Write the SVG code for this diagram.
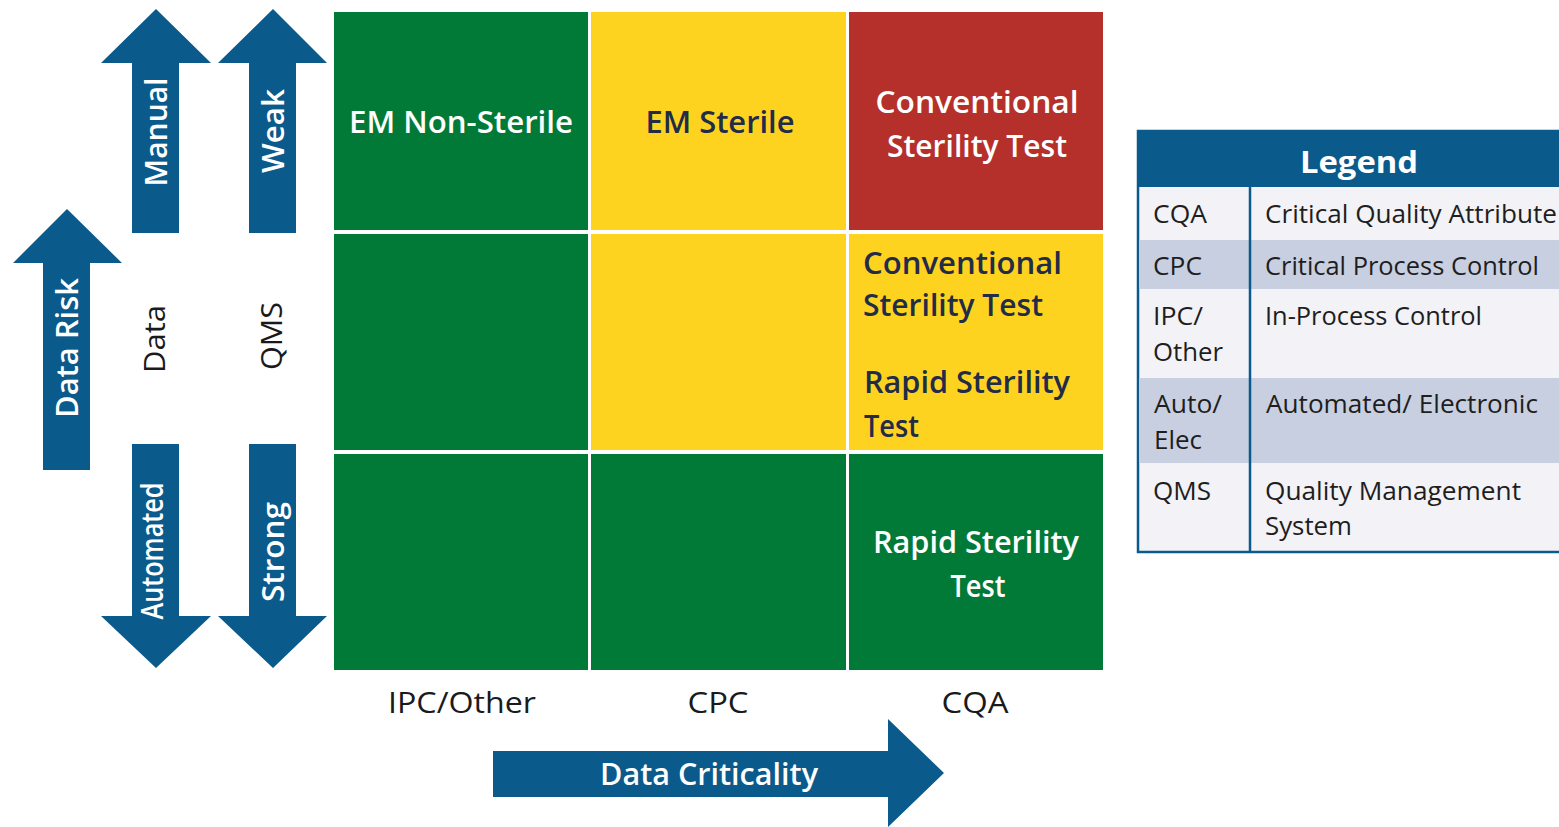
<svg xmlns="http://www.w3.org/2000/svg" width="1559" height="827" viewBox="0 0 1559 827">
  <style>
    .t { font-family: "Open Sans", "Noto Sans", "Liberation Sans", sans-serif; }
    .lbl { font-weight: 600; font-size: 30px; }
    .w { fill: #ffffff; }
    .nv { fill: #222b48; }
    .k { fill: #1a1a1a; }
    .axis { font-size: 29px; font-weight: 400; }
    .lg { font-size: 25px; font-weight: 400; fill: #1e1e1e; }
    .arrow { fill: #0a5a8c; }
    .green { fill: #017a38; }
    .yellow { fill: #fdd320; }
    .red { fill: #b5302b; }
  </style>

  <rect x="0" y="0" width="1559" height="827" fill="#ffffff"/>

  <!-- Vertical axis arrows -->
  <g id="arrow-manual">
    <polygon class="arrow" points="156,9 211,63 179,63 179,233 132,233 132,63 101,63"/>
    <text class="t lbl w" transform="translate(156,132) rotate(-90)" x="0" y="11" text-anchor="middle" font-size="31" textLength="109" lengthAdjust="spacingAndGlyphs">Manual</text>
  </g>
  <g id="arrow-weak">
    <polygon class="arrow" points="273,9 327,63 296,63 296,233 249,233 249,63 218,63"/>
    <text class="t lbl w" transform="translate(273,131) rotate(-90)" x="0" y="11" text-anchor="middle" font-size="31" textLength="84" lengthAdjust="spacingAndGlyphs">Weak</text>
  </g>
  <g id="arrow-data-risk">
    <polygon class="arrow" points="67,209 122,263 90,263 90,470 43,470 43,263 13,263"/>
    <text class="t lbl w" transform="translate(67,348) rotate(-90)" x="0" y="11" text-anchor="middle" font-size="31" textLength="140" lengthAdjust="spacingAndGlyphs">Data Risk</text>
  </g>
  <g id="label-data">
    <text class="t k" transform="translate(154,339) rotate(-90)" x="0" y="11" text-anchor="middle" font-size="30" textLength="68" lengthAdjust="spacingAndGlyphs">Data</text>
  </g>
  <g id="label-qms">
    <text class="t k" transform="translate(271,336) rotate(-90)" x="0" y="11" text-anchor="middle" font-size="30" textLength="68" lengthAdjust="spacingAndGlyphs">QMS</text>
  </g>
  <g id="arrow-automated">
    <polygon class="arrow" points="132,444 179,444 179,616 211,616 156,668 101,616 132,616"/>
    <text class="t lbl w" transform="translate(154,551) rotate(-90)" x="0" y="9" text-anchor="middle" font-size="25" textLength="137" lengthAdjust="spacingAndGlyphs">Automated</text>
  </g>
  <g id="arrow-strong">
    <polygon class="arrow" points="249,444 296,444 296,616 327,616 273,668 218,616 249,616"/>
    <text class="t lbl w" transform="translate(273,552) rotate(-90)" x="0" y="11" text-anchor="middle" font-size="31" textLength="100" lengthAdjust="spacingAndGlyphs">Strong</text>
  </g>

  <!-- Risk matrix cells -->
  <g id="cell-r1c1">
    <rect class="green" x="334" y="12" width="254" height="218"/>
    <text class="t lbl w" x="461" y="133" text-anchor="middle" textLength="224" lengthAdjust="spacingAndGlyphs">EM Non-Sterile</text>
  </g>
  <g id="cell-r1c2">
    <rect class="yellow" x="591" y="12" width="255" height="218"/>
    <text class="t lbl nv" x="720" y="133" text-anchor="middle" textLength="149" lengthAdjust="spacingAndGlyphs">EM Sterile</text>
  </g>
  <g id="cell-r1c3">
    <rect class="red" x="849" y="12" width="254" height="218"/>
    <text class="t lbl w" x="977" y="113" text-anchor="middle" textLength="203" lengthAdjust="spacingAndGlyphs">Conventional</text>
    <text class="t lbl w" x="977" y="157" text-anchor="middle" textLength="180" lengthAdjust="spacingAndGlyphs">Sterility Test</text>
  </g>
  <g id="cell-r2c1">
    <rect class="green" x="334" y="234" width="254" height="216"/>
  </g>
  <g id="cell-r2c2">
    <rect class="yellow" x="591" y="234" width="255" height="216"/>
  </g>
  <g id="cell-r2c3">
    <rect class="yellow" x="849" y="234" width="254" height="216"/>
    <text class="t lbl nv" x="863" y="274" textLength="199" lengthAdjust="spacingAndGlyphs">Conventional</text>
    <text class="t lbl nv" x="863" y="316" textLength="180" lengthAdjust="spacingAndGlyphs">Sterility Test</text>
    <text class="t lbl nv" x="864" y="393" textLength="206" lengthAdjust="spacingAndGlyphs">Rapid Sterility</text>
    <text class="t lbl nv" x="864" y="437" textLength="55" lengthAdjust="spacingAndGlyphs">Test</text>
  </g>
  <g id="cell-r3c1">
    <rect class="green" x="334" y="454" width="254" height="216"/>
  </g>
  <g id="cell-r3c2">
    <rect class="green" x="591" y="454" width="255" height="216"/>
  </g>
  <g id="cell-r3c3">
    <rect class="green" x="849" y="454" width="254" height="216"/>
    <text class="t lbl w" x="976" y="553" text-anchor="middle" textLength="206" lengthAdjust="spacingAndGlyphs">Rapid Sterility</text>
    <text class="t lbl w" x="978" y="597" text-anchor="middle" textLength="55" lengthAdjust="spacingAndGlyphs">Test</text>
  </g>

  <!-- Column labels -->
  <g id="col-labels">
    <text class="t axis k" x="462" y="713" text-anchor="middle" textLength="148" lengthAdjust="spacingAndGlyphs">IPC/Other</text>
    <text class="t axis k" x="718" y="713" text-anchor="middle" textLength="61" lengthAdjust="spacingAndGlyphs">CPC</text>
    <text class="t axis k" x="975" y="713" text-anchor="middle" textLength="67" lengthAdjust="spacingAndGlyphs">CQA</text>
  </g>

  <!-- Horizontal axis arrow -->
  <g id="arrow-data-criticality">
    <polygon class="arrow" points="493,751 888,751 888,719 944,773 888,827 888,797 493,797"/>
    <text class="t lbl w" x="709" y="785" text-anchor="middle" font-size="30" textLength="218" lengthAdjust="spacingAndGlyphs">Data Criticality</text>
  </g>

  <!-- Legend table -->
  <g id="legend">
    <rect x="1138" y="131" width="440" height="421" fill="#f2f2f7" stroke="#0a5a8c" stroke-width="2.5"/>
    <rect x="1139" y="240" width="440" height="49" fill="#c8cfe1"/>
    <rect x="1139" y="378" width="440" height="85" fill="#c8cfe1"/>
    <rect x="1138" y="131" width="440" height="56" fill="#0a5a8c"/>
    <line x1="1250" y1="187" x2="1250" y2="552" stroke="#0a5a8c" stroke-width="2.5"/>
    <text class="t w" x="1359" y="173" text-anchor="middle" font-size="30" font-weight="700" textLength="118" lengthAdjust="spacingAndGlyphs">Legend</text>

    <text class="t lg" x="1153" y="223" textLength="54" lengthAdjust="spacingAndGlyphs">CQA</text>
    <text class="t lg" x="1265" y="223" textLength="292" lengthAdjust="spacingAndGlyphs">Critical Quality Attribute</text>

    <text class="t lg" x="1153" y="275" textLength="49" lengthAdjust="spacingAndGlyphs">CPC</text>
    <text class="t lg" x="1265" y="275" textLength="274" lengthAdjust="spacingAndGlyphs">Critical Process Control</text>

    <text class="t lg" x="1153" y="325" textLength="50" lengthAdjust="spacingAndGlyphs">IPC/</text>
    <text class="t lg" x="1153" y="361" textLength="70" lengthAdjust="spacingAndGlyphs">Other</text>
    <text class="t lg" x="1265" y="325" textLength="217" lengthAdjust="spacingAndGlyphs">In-Process Control</text>

    <text class="t lg" x="1154" y="413" textLength="68" lengthAdjust="spacingAndGlyphs">Auto/</text>
    <text class="t lg" x="1154" y="449" textLength="48" lengthAdjust="spacingAndGlyphs">Elec</text>
    <text class="t lg" x="1266" y="413" textLength="272" lengthAdjust="spacingAndGlyphs">Automated/ Electronic</text>

    <text class="t lg" x="1153" y="500" textLength="58" lengthAdjust="spacingAndGlyphs">QMS</text>
    <text class="t lg" x="1265" y="500" textLength="256" lengthAdjust="spacingAndGlyphs">Quality Management</text>
    <text class="t lg" x="1265" y="535" textLength="87" lengthAdjust="spacingAndGlyphs">System</text>
  </g>
</svg>
